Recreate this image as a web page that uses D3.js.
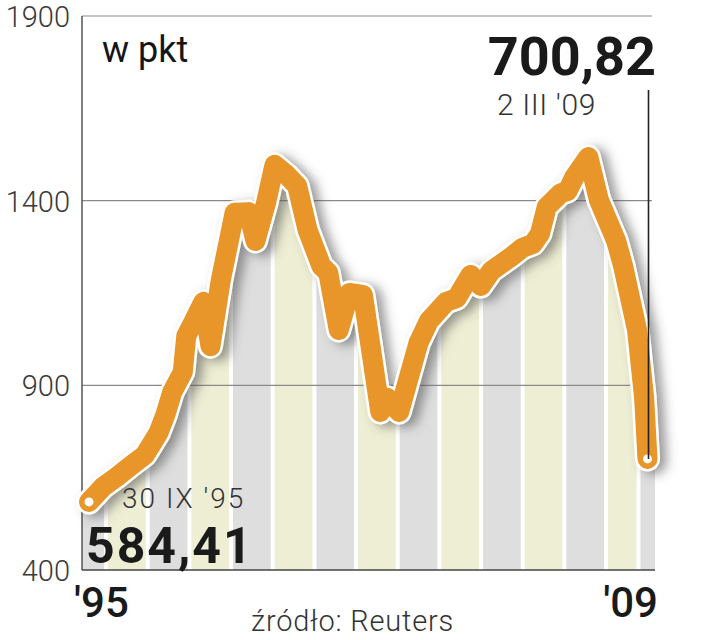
<!DOCTYPE html>
<html><head><meta charset="utf-8">
<script src="https://cdn.jsdelivr.net/npm/d3@7"></script>
<style>
html,body{margin:0;padding:0;background:#fff;}
svg{display:block;}
</style></head><body>
<svg id="chart" width="701" height="640"></svg>
<script>
// ---- data ----
const dates = ["1995-09-30","1996-01-31","1996-05-31","1996-09-30","1997-01-31","1997-05-31","1997-07-31","1997-09-30","1997-12-31","1998-01-31","1998-03-31","1998-06-30","1998-08-31","1998-11-30","1999-03-31","1999-07-31","1999-09-30","1999-12-31","2000-03-15","2000-06-30","2000-09-30","2000-12-31","2001-04-30","2001-06-30","2001-09-30","2001-12-31","2002-04-30","2002-09-30","2002-11-30","2003-03-15","2003-08-31","2003-11-30","2004-04-30","2004-07-31","2004-11-30","2005-02-28","2005-05-31","2005-11-30","2006-02-28","2006-05-31","2006-07-31","2006-09-30","2007-01-31","2007-03-31","2007-05-31","2007-09-30","2007-12-31","2008-05-31","2008-07-31","2008-11-30","2009-01-31","2009-03-02"];
const values = [584.41,625,652,682,711,771,820,882,936,1034,1069,1126,1006,1185,1367,1369,1291,1393,1497,1470,1440,1320,1223,1205,1050,1150,1145,828,866,828,1015,1074,1126,1136,1199,1169,1210,1250,1272,1283,1310,1383,1420,1426,1464,1518,1402,1291,1223,1050,868,700.82];
const yTicks = [400, 900, 1400, 1900];
const gridValues = [900, 1400, 1900];
const stripeYears = [1995,1996,1997,1998,1999,2000,2001,2002,2003,2004,2005,2006,2007,2008,2009];
const xLabels = ["'95", "'09"];
const unitLabel = "w pkt";
const startValueLabel = "584,41";
const startDateLabel = "30 IX '95";
const endValueLabel = "700,82";
const endDateLabel = "2 III '09";
const sourceLabel = "źródło: Reuters";

// ---- layout ----
const L = 82, R = 655, T = 16, B = 570;
const parse = d3.timeParse("%Y-%m-%d");
const data = dates.map((d, i) => ({date: parse(d), value: values[i]}));

const x = d3.scaleTime().domain([data[0].date, data[data.length-1].date]).range([89, 647.5]);
const y = d3.scaleLinear().domain([400, 1900]).range([B, T]);
// background year bands (the designer's band grid)
const xs = d3.scaleTime()
  .domain([new Date(1996,0,1), new Date(2008,0,1), new Date(2009,0,1)])
  .range([106, 606, 638.5]);

const svg = d3.select("#chart");
const defs = svg.append("defs");

const f = defs.append("filter").attr("id","shadow")
  .attr("x","-20%").attr("y","-20%").attr("width","140%").attr("height","140%");
f.append("feGaussianBlur").attr("in","SourceAlpha").attr("stdDeviation",5.5).attr("result","blur");
f.append("feOffset").attr("in","blur").attr("dx",7).attr("dy",3).attr("result","off");
f.append("feFlood").attr("flood-color","#4a4a4a").attr("flood-opacity",0.55).attr("result","col");
f.append("feComposite").attr("in","col").attr("in2","off").attr("operator","in").attr("result","sh");
const fm = f.append("feMerge");
fm.append("feMergeNode").attr("in","sh");
fm.append("feMergeNode").attr("in","SourceGraphic");

// clip: area under the line, extended to plot edges
const pts = data.map(d => [x(d.date), y(d.value)]);
const clipPts = [[L, pts[0][1]], ...pts, [R, pts[pts.length-1][1]]];
defs.append("clipPath").attr("id","under")
  .append("path")
  .attr("d", d3.area().x(p => p[0]).y0(B).y1(p => p[1])(clipPts));

// stripes
const gS = svg.append("g").attr("clip-path","url(#under)");
gS.selectAll("rect").data(stripeYears).join("rect")
  .attr("x", yr => Math.max(L, xs(new Date(yr,0,1)) + 2))
  .attr("width", yr => Math.max(0, Math.min(R, xs(new Date(yr+1,0,1)) - 2) - Math.max(L, xs(new Date(yr,0,1)) + 2)))
  .attr("y", T).attr("height", B - T)
  .attr("fill", yr => yr % 2 === 0 ? "#eeeed4" : "#dedede");

// gridlines
svg.append("g").selectAll("line").data(gridValues).join("line")
  .attr("x1", L).attr("x2", 652)
  .attr("y1", d => y(d)).attr("y2", d => y(d))
  .attr("stroke", "#8a8a8a").attr("stroke-width", 1.2);

// axes lines
svg.append("line").attr("x1", L).attr("x2", L).attr("y1", T).attr("y2", B)
  .attr("stroke", "#555").attr("stroke-width", 1.5);
svg.append("line").attr("x1", L).attr("x2", R).attr("y1", B).attr("y2", B)
  .attr("stroke", "#444").attr("stroke-width", 1.5);

// line
const line = d3.line().x(d => x(d.date)).y(d => y(d.value)).curve(d3.curveLinear);
const gL = svg.append("g").attr("filter","url(#shadow)");
gL.append("path").attr("d", line(data)).attr("fill","none")
  .attr("stroke","#ffffff").attr("stroke-width",25)
  .attr("stroke-linejoin","round").attr("stroke-linecap","round");
gL.append("path").attr("d", line(data)).attr("fill","none")
  .attr("stroke","#e8952a").attr("stroke-width",20)
  .attr("stroke-linejoin","round").attr("stroke-linecap","round");

// end dots
const first = data[0], last = data[data.length-1];
svg.append("circle").attr("cx", x(first.date)).attr("cy", y(first.value)).attr("r", 4.5).attr("fill","#fff");
svg.append("circle").attr("cx", x(last.date)).attr("cy", y(last.value)).attr("r", 4.5).attr("fill","#fff");

// annotation pointer
svg.append("line").attr("x1", x(last.date)+1).attr("x2", x(last.date)+1)
  .attr("y1", 90).attr("y2", y(last.value))
  .attr("stroke","#222").attr("stroke-width",1.6);

// y tick labels
svg.append("g").selectAll("text").data(yTicks).join("text")
  .attr("x", 70).attr("y", d => y(d) + 1)
  .attr("text-anchor","end").attr("dominant-baseline","central")
  .attr("font-family","Roboto").attr("font-weight",300)
  .attr("font-size",29).attr("fill","#3a3a3a")
  .text(d => d);

// x labels
svg.append("text").attr("x", 74).attr("y", 617)
  .attr("font-family","Roboto").attr("font-weight",500).attr("font-size",42).attr("fill","#1a1a1a")
  .text(xLabels[0]);
svg.append("text").attr("x", 658).attr("y", 617).attr("text-anchor","end")
  .attr("font-family","Roboto").attr("font-weight",500).attr("font-size",42).attr("fill","#1a1a1a")
  .text(xLabels[1]);

// unit
svg.append("text").attr("x", 102).attr("y", 62)
  .attr("font-family","Roboto").attr("font-weight",400).attr("font-size",36).attr("fill","#151515")
  .text(unitLabel);

// end annotation
svg.append("text").attr("x", 656).attr("y", 75).attr("text-anchor","end")
  .attr("font-family","Roboto").attr("font-weight",700).attr("font-size",54).attr("fill","#1a1a1a")
  .text(endValueLabel);
svg.append("text").attr("x", 497).attr("y", 115)
  .attr("font-family","Roboto").attr("font-weight",300).attr("font-size",30)
  .attr("letter-spacing",0.6).attr("fill","#333")
  .text(endDateLabel);

// start annotation
svg.append("text").attr("x", 122).attr("y", 508)
  .attr("font-family","Roboto").attr("font-weight",300).attr("font-size",28)
  .attr("letter-spacing",2).attr("fill","#333")
  .text(startDateLabel);
svg.append("text").attr("x", 86).attr("y", 563)
  .attr("font-family","Roboto").attr("font-weight",700).attr("font-size",50)
  .attr("letter-spacing",2).attr("fill","#1a1a1a")
  .text(startValueLabel);

// source
svg.append("text").attr("x", 251).attr("y", 631)
  .attr("font-family","Roboto").attr("font-weight",300).attr("font-size",29)
  .attr("letter-spacing",0.8).attr("fill","#333")
  .text(sourceLabel);
</script>
</body></html>
